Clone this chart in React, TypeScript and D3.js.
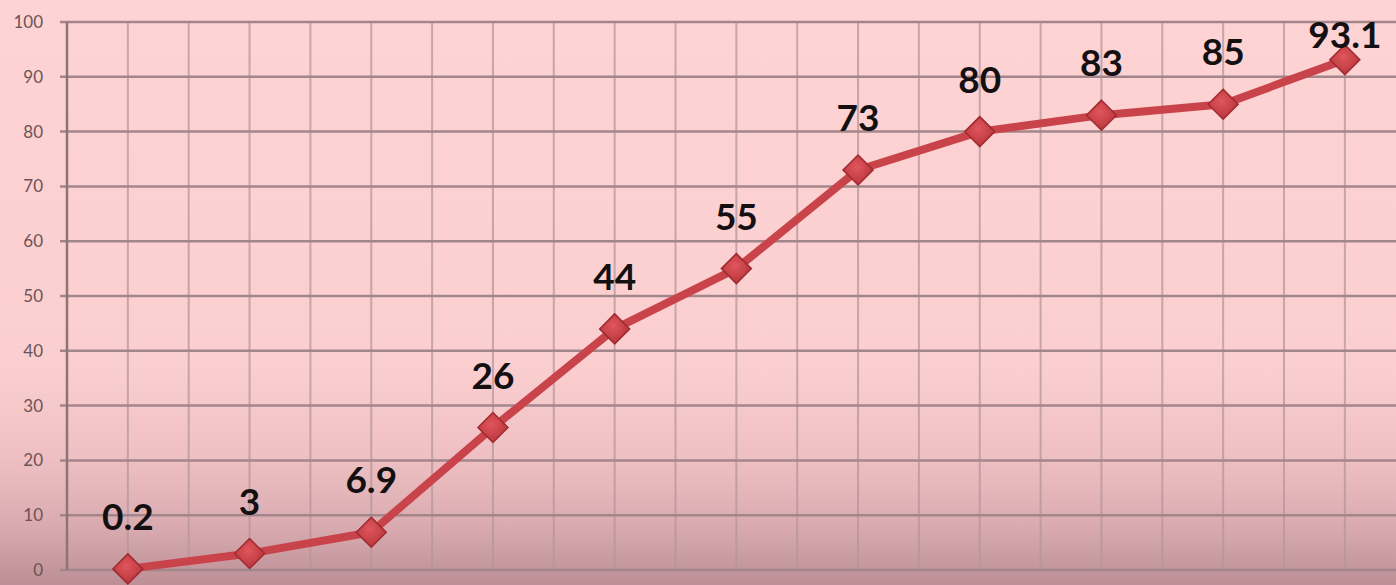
import React from "react";
import * as d3 from "d3";

const categories = ["1", "2", "3", "4", "5", "6", "7", "8", "9", "10", "11"];
const values = [0.2, 3, 6.9, 26, 44, 55, 73, 80, 83, 85, 93.1];
const labels = ["0.2", "3", "6.9", "26", "44", "55", "73", "80", "83", "85", "93.1"];
const yTicks = [0, 10, 20, 30, 40, 50, 60, 70, 80, 90, 100];

const W = 1396;
const H = 585;
const left = 67;
const top = 22;
const bottom = 570;
const bandW = 121.7;

export default function App() {
  const x = d3
    .scaleBand<string>()
    .domain(categories)
    .range([left, left + bandW * categories.length])
    .paddingInner(0)
    .paddingOuter(0);
  const y = d3.scaleLinear().domain([0, 100]).range([bottom, top]);
  const cx = (c: string) => (x(c) as number) + x.bandwidth() / 2;

  const line = d3
    .line<number>()
    .x((_, i) => cx(categories[i]))
    .y((d) => y(d));

  const vLines: number[] = [];
  categories.forEach((c) => {
    vLines.push(x(c) as number);
    vLines.push(cx(c));
  });
  vLines.push(left + bandW * categories.length);

  const diamond = (px: number, py: number, r: number) =>
    `M${px},${py - r}L${px + r},${py}L${px},${py + r}L${px - r},${py}Z`;

  return (
    <svg
      width={W}
      height={H}
      style={{ position: "absolute", left: 0, top: 0, display: "block" }}
    >
      <defs>
        <linearGradient id="bg" x1="0" y1="0" x2="0" y2="1">
          <stop offset="0%" stopColor="#fed3d3" />
          <stop offset="62%" stopColor="#fbcfd0" />
          <stop offset="78%" stopColor="#efc0c3" />
          <stop offset="90%" stopColor="#d9abb0" />
          <stop offset="100%" stopColor="#bb8f95" />
        </linearGradient>
        <radialGradient id="mk" cx="45%" cy="40%" r="60%">
          <stop offset="0%" stopColor="#e0565c" />
          <stop offset="100%" stopColor="#b8363c" />
        </radialGradient>
      </defs>
      <rect x={0} y={0} width={W} height={H} fill="url(#bg)" />

      {vLines.map((vx, i) => (
        <line
          key={"v" + i}
          x1={vx}
          x2={vx}
          y1={top}
          y2={bottom}
          stroke="#b4959a"
          strokeOpacity={0.75}
          strokeWidth={2}
        />
      ))}

      {yTicks.map((t) => (
        <g key={"h" + t}>
          <line
            x1={left - 7}
            x2={W}
            y1={y(t)}
            y2={y(t)}
            stroke="#a3868b"
            strokeWidth={2.5}
          />
          <text
            x={43}
            y={y(t)}
            dy="0.35em"
            textAnchor="end"
            fontFamily="Lato, 'Open Sans', sans-serif"
            fontSize={17}
            fill="#6c5357"
          >
            {t}
          </text>
        </g>
      ))}

      <line
        x1={left}
        x2={left}
        y1={top}
        y2={bottom}
        stroke="#8f7377"
        strokeWidth={2.5}
      />

      <path
        d={line(values) || ""}
        fill="none"
        stroke="#c9444a"
        strokeWidth={8}
        strokeLinejoin="round"
        strokeLinecap="round"
      />

      {values.map((v, i) => (
        <path
          key={"m" + i}
          d={diamond(cx(categories[i]), y(v), 15)}
          fill="url(#mk)"
          stroke="#9e2a30"
          strokeWidth={1.5}
        />
      ))}

      {values.map((v, i) => (
        <text
          key={"l" + i}
          x={cx(categories[i])}
          y={Math.max(y(v) - 39, 48)}
          textAnchor="middle"
          fontFamily="Lato, 'Open Sans', sans-serif"
          fontWeight={700}
          fontSize={37}
          fill="#141012"
        >
          {labels[i]}
        </text>
      ))}
    </svg>
  );
}
